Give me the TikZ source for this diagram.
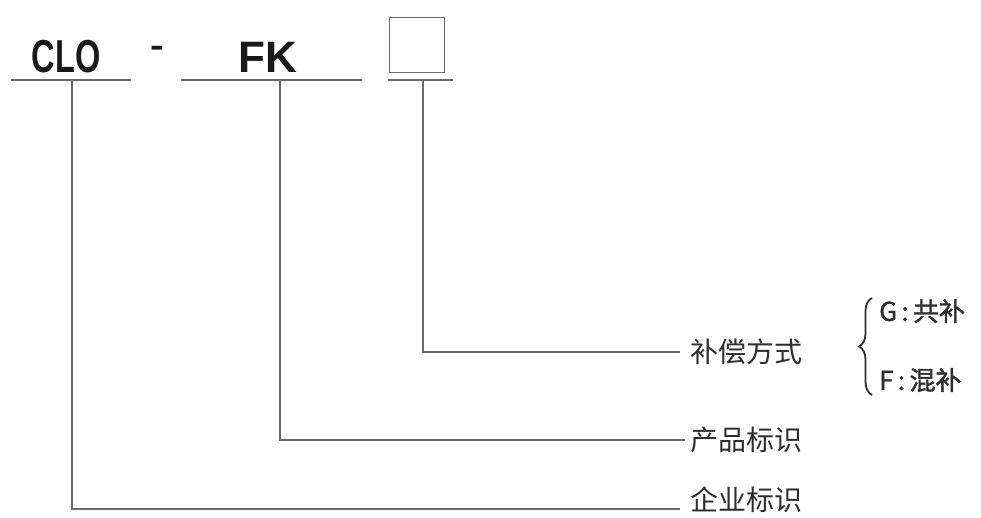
\documentclass[tikz,border=0pt]{standalone}
\usepackage{fontspec}
\setmainfont{Liberation Sans}
\newfontfamily\cjk{Noto Sans CJK SC}
\newfontfamily\cjkb[FakeBold=1.5]{Noto Sans CJK SC}
\usetikzlibrary{decorations.pathreplacing}
\definecolor{ln}{HTML}{6A6A6A}
\definecolor{tx}{HTML}{2E2E2E}
\begin{document}
\begin{tikzpicture}[x=1pt,y=-1pt,
  code/.style={font=\fontsize{44}{44}\selectfont\bfseries, text=black!90, inner sep=0pt, anchor=base},
  lab/.style={font=\cjk\fontsize{28}{28}\selectfont, text=tx, inner sep=0pt, anchor=west},
  sub/.style={font=\cjkb\fontsize{26}{26}\selectfont, text=tx, inner sep=0pt, anchor=west},
  rule/.style={draw=ln, line width=2.4pt},
  conn/.style={draw=ln, line width=1.3pt}]
\useasboundingbox (0,0) rectangle (981,517);
% codes
\node[code, xscale=0.74, yscale=1.05] (clo) at (66,72) {CLO};
\node[code, font=\fontsize{32}{32}\selectfont\bfseries, xscale=1.3] (dash) at (157,56) {-};
\node[code] (fk) at (268,72) {FK};
\node[draw=ln, line width=1.6pt, minimum width=55pt, minimum height=55pt, inner sep=0pt] (box) at (417,45) {};
% underlines
\coordinate (u1a) at (11,80); \coordinate (u1b) at (131,80);
\coordinate (u2a) at (181,80); \coordinate (u2b) at (362,80);
\coordinate (u3a) at (388,80); \coordinate (u3b) at (453,80);
\draw[rule] (u1a) -- (u1b);
\draw[rule] (u2a) -- (u2b);
\draw[rule] (u3a) -- (u3b);
% labels
\node[lab] (l1) at (690,352) {补偿方式};
\node[lab] (l2) at (690,440) {产品标识};
\node[lab] (l3) at (690,500) {企业标识};
\node[sub] (g) at (879,311) {G\,:\,共补};
\node[sub] (f) at (879,380) {F\,:\,混补};
% connectors
\coordinate (c3) at (423,81); \coordinate (c2) at (280,81); \coordinate (c1) at (72,81);
\draw[conn] (c3) |- ([xshift=-10pt]l1.west);
\draw[conn] (c2) |- ([xshift=-5pt]l2.west);
\draw[conn] (c1) |- ([xshift=-10pt,yshift=-9pt]l3.west);
% brace
\coordinate (b1) at (872,298); \coordinate (b2) at (872,395);
\draw[tx, line width=1.8pt, decorate, decoration={brace, amplitude=13pt, mirror, aspect=0.5}] (b1) -- (b2);
\end{tikzpicture}
\end{document}
